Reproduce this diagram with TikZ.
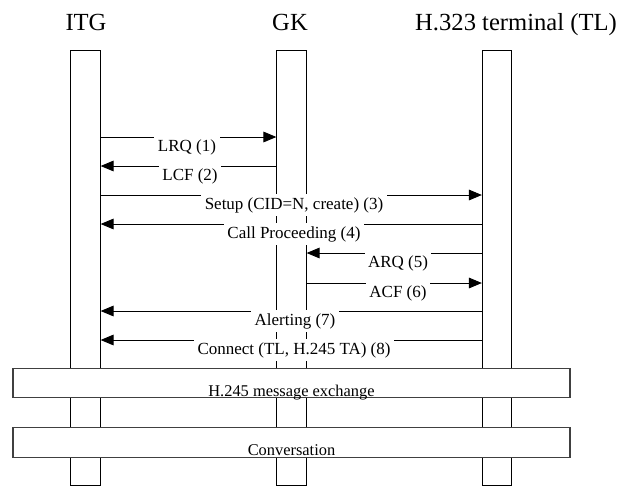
\documentclass[tikz,border=0pt]{standalone}
\usepackage{fontspec}
\setmainfont{Liberation Serif}
\usetikzlibrary{arrows.meta}

\begin{document}
\begin{tikzpicture}[
  x=0.3mm, y=-0.3mm,
  title/.style={anchor=base, inner sep=0pt, font=\fontsize{21}{24}\selectfont},
  bar/.style={draw, fill=white, line width=0.8pt, minimum width=8.8mm, minimum height=130.5mm, inner sep=0pt},
  msg/.style={-{Triangle[length=3.9mm, width=3.2mm]}, line width=0.8pt},
  msglabel/.style={anchor=base, fill=white, inner xsep=3pt, inner ysep=3pt, font=\fontsize{14.5}{17}\selectfont},
  phase/.style={draw=black!75, fill=white, line width=0.9pt, minimum width=167.1mm, minimum height=8.9mm, inner sep=0pt},
  phasetext/.style={anchor=base, inner sep=0pt, font=\fontsize{14}{16}\selectfont}
]
\useasboundingbox (0,0) rectangle (621,486);

% ---------- Entities ----------
\node[title] (tITG) at (86,30)  {ITG};
\node[title] (tGK)  at (290,30) {GK};
\node[title] (tTL)  at (516,30) {H.323 terminal (TL)};

\node[bar] (ITG) at (85.5,267.5) {};
\node[bar] (GK)  at (291.5,267.5) {};
\node[bar] (TL)  at (497,267.5) {};

% ---------- Message rows ----------
\coordinate (m1) at (0,137);
\coordinate (m2) at (0,166);
\coordinate (m3) at (0,195);
\coordinate (m4) at (0,224);
\coordinate (m5) at (0,253);
\coordinate (m6) at (0,283);
\coordinate (m7) at (0,311);
\coordinate (m8) at (0,340);

\draw[msg] (ITG.east |- m1) -- (GK.west |- m1);
\draw[msg] (GK.west |- m2)  -- (ITG.east |- m2);
\draw[msg] (ITG.east |- m3) -- (TL.west |- m3);
\draw[msg] (TL.west |- m4)  -- (ITG.east |- m4);
\draw[msg] (TL.west |- m5)  -- (GK.east |- m5);
\draw[msg] (GK.east |- m6)  -- (TL.west |- m6);
\draw[msg] (TL.west |- m7)  -- (ITG.east |- m7);
\draw[msg] (TL.west |- m8)  -- (ITG.east |- m8);

\node[msglabel] (lLRQ)  at (187,151) {LRQ (1)};
\node[msglabel] (lLCF)  at (190,180) {LCF (2)};
\node[msglabel] (lSetup) at (294,209) {Setup (CID=N, create) (3)};
\node[msglabel] (lCP)   at (294,238) {Call Proceeding (4)};
\node[msglabel] (lARQ)  at (398,267) {ARQ (5)};
\node[msglabel] (lACF)  at (398,297) {ACF (6)};
\node[msglabel] (lAlert) at (295,325) {Alerting (7)};
\node[msglabel] (lConn) at (294,354) {Connect (TL, H.245 TA) (8)};

% ---------- Phases ----------
\node[phase] (h245) at (291.5,383) {};
\node[phasetext] (th245) at (291.5,396) {H.245 message exchange};

\node[phase] (conv) at (291.5,442.5) {};
\node[phasetext] (tconv) at (291.5,455) {Conversation};

\end{tikzpicture}
\end{document}
